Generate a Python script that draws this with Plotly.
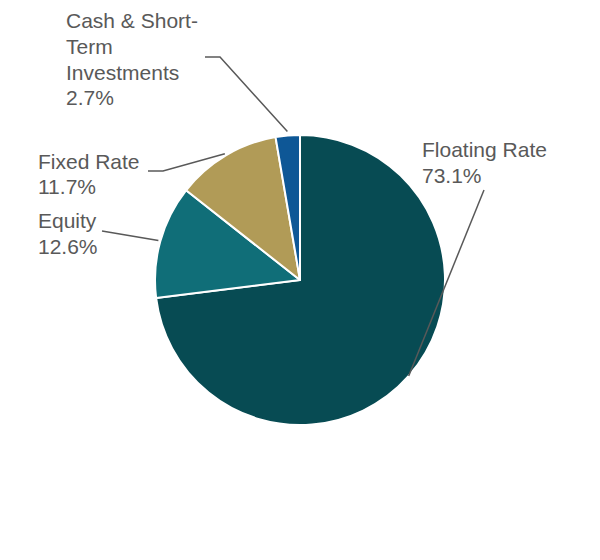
import plotly.graph_objects as go
import math

# ---- data ----
categories = ["Floating Rate", "Equity", "Fixed Rate", "Cash & Short-Term Investments"]
values = [73.1, 12.6, 11.7, 2.7]
label_lines = [
    ["Floating Rate", "73.1%"],
    ["Equity", "12.6%"],
    ["Fixed Rate", "11.7%"],
    ["Cash & Short-", "Term", "Investments", "2.7%"],
]
colors = ["#074B53", "#106E78", "#B19B57", "#0E5796"]

# ---- layout constants (pixels) ----
W, H = 600, 560
CX, CY, R = 300, 280, 145
TEXT_COLOR = "#595959"
LINE_COLOR = "#595959"
FONT = "Liberation Sans, Arial, sans-serif"
FS = 21
LINE_GAP = 25.5
# label block: (left x, first-line center y)
label_pos = [(420, 150), (36, 221), (36, 161), (64, 21)]
# leader line: list of points after the rim anchor (rim anchor computed from data)
leader_pts = [
    [(484, 190)],
    [(102, 231)],
    [(163, 171), (148, 171)],
    [(220, 57), (205, 57)],
]
leader_r = [145, 147, 147, 149]


def px(x):
    return x / W


def py(y):
    return 1 - y / H


fig = go.Figure(
    go.Pie(
        labels=categories,
        values=values,
        sort=False,
        direction="clockwise",
        rotation=0,
        marker=dict(colors=colors, line=dict(color="white", width=2)),
        textinfo="none",
        hoverinfo="label+percent",
        domain=dict(x=[px(CX - R), px(CX + R)], y=[py(CY + R), py(CY - R)]),
        showlegend=False,
    )
)

shapes = []
annotations = []
total = sum(values)
cum = 0
for i, v in enumerate(values):
    mid = (cum + v / 2) / total * 2 * math.pi
    cum += v
    ax = CX + leader_r[i] * math.sin(mid)
    ay = CY - leader_r[i] * math.cos(mid)
    pts = [(ax, ay)] + leader_pts[i]
    path = "M " + " L ".join(f"{px(x)},{py(y)}" for x, y in pts)
    shapes.append(dict(type="path", xref="paper", yref="paper", path=path,
                       line=dict(color=LINE_COLOR, width=1.5)))
    lx, ly = label_pos[i]
    for j, t in enumerate(label_lines[i]):
        annotations.append(dict(
            text=t, x=px(lx), y=py(ly + j * LINE_GAP), xref="paper", yref="paper",
            xanchor="left", yanchor="middle", showarrow=False,
            font=dict(family=FONT, size=FS, color=TEXT_COLOR),
        ))

fig.update_layout(
    width=W, height=H,
    margin=dict(l=0, r=0, t=0, b=0),
    paper_bgcolor="white", plot_bgcolor="white",
    shapes=shapes, annotations=annotations,
)

fig.write_html("out.html")
